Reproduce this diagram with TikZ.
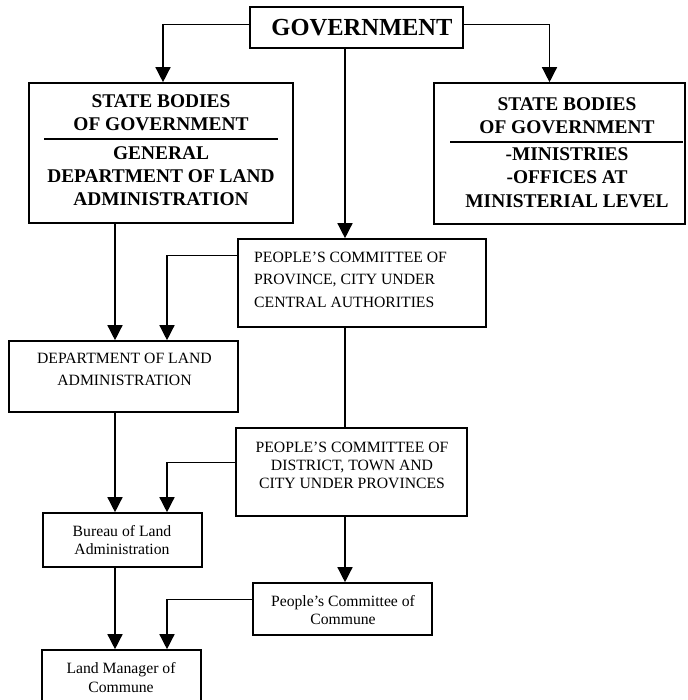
\documentclass[tikz,border=0pt]{standalone}
\usepackage{fontspec}
\setmainfont{Liberation Serif}
\usetikzlibrary{arrows.meta}

\begin{document}
\begin{tikzpicture}[x=1pt,y=-1pt,
	box/.style={draw,line width=1.6pt,inner sep=0pt},
	txt/.style={inner sep=0pt,align=center,font=\fontsize{15.7}{18}\selectfont},
	captxt/.style={inner sep=0pt,align=center,font=\bfseries\fontsize{19.4}{23.3}\selectfont},
	lin/.style={line width=1.4pt},
	arr/.style={line width=1.4pt,-{Triangle[width=15pt,length=15pt]}}]
	\useasboundingbox (0,0) rectangle (687,700);
	\clip (0,0) rectangle (687,700);
	% boxes
	\node[box,minimum width=213,minimum height=41](gov)at(356.5,27.5){};
	\node[inner sep=0pt,font=\bfseries\fontsize{24.5}{28}\selectfont](gov-t)at(362,28){GOVERNMENT};
	\node[box,minimum width=264,minimum height=140](sbl)at(161,153){};
	\node[captxt](sbl-a)at(161,113){STATE BODIES\\OF GOVERNMENT};
	\node[captxt](sbl-b)at(161,176){GENERAL\\DEPARTMENT OF LAND\\ADMINISTRATION};
	\draw[line width=2.6pt](44,139)--(278,139);
	\node[box,minimum width=251,minimum height=141](sbr)at(559.5,153.5){};
	\node[captxt](sbr-a)at(567,116){STATE BODIES\\OF GOVERNMENT};
	\node[captxt](sbr-b)at(567,177.5){-MINISTRIES\\-OFFICES AT\\MINISTERIAL LEVEL};
	\draw[line width=2.6pt](450,142)--(683,142);
	\node[box,minimum width=248,minimum height=88](pcp)at(362,283){};
	\node[txt,align=left,anchor=west,font=\fontsize{15.7}{22.5}\selectfont](pcp-t)at(254,279.5){PEOPLE’S COMMITTEE OF\\PROVINCE, CITY UNDER\\CENTRAL AUTHORITIES};
	\node[box,minimum width=229,minimum height=71](dola)at(123.5,376.5){};
	\node[txt,font=\fontsize{15.7}{22}\selectfont](dola-t)at(124.5,369){DEPARTMENT OF LAND\\ADMINISTRATION};
	\node[box,minimum width=231,minimum height=88](pcd)at(351.5,472){};
	\node[txt](pcd-t)at(352,465){PEOPLE’S COMMITTEE OF\\DISTRICT, TOWN AND\\CITY UNDER PROVINCES};
	\node[box,minimum width=159,minimum height=54](bur)at(122.5,540){};
	\node[txt](bur-t)at(122,540){Bureau of Land\\Administration};
	\node[box,minimum width=179,minimum height=52](pcc)at(342.5,609){};
	\node[txt](pcc-t)at(343,610){People’s Committee of\\Commune};
	\node[box,minimum width=159,minimum height=56](lmc)at(121.5,678){};
	\node[txt,font=\fontsize{15.7}{19}\selectfont](lmc-t)at(121,677.5){Land Manager of\\Commune};
	% spines
	\coordinate(lsp)at(115,0);
	\coordinate(isp)at(167,0);
	\coordinate(msp)at(345,0);
	% connectors
	\draw[arr]([yshift=3pt]gov.west)-|([xshift=2pt]sbl.north);
	\draw[arr]([yshift=3pt]gov.east)-|([xshift=-10pt]sbr.north);
	\draw[arr](gov.south-|msp)--(pcp.north-|msp);
	\draw[arr](sbl.south-|lsp)--(dola.north-|lsp);
	\draw[arr]([yshift=-17pt]pcp.north west)-|(dola.north-|isp);
	\draw[lin](pcp.south-|msp)--(pcd.north-|msp);
	\draw[arr](dola.south-|lsp)--(bur.north-|lsp);
	\draw[arr]([yshift=-35pt]pcd.north west)-|(bur.north-|isp);
	\draw[arr](pcd.south-|msp)--(pcc.north-|msp);
	\draw[arr](bur.south-|lsp)--(lmc.north-|lsp);
	\draw[arr]([yshift=-17pt]pcc.north west)-|(lmc.north-|isp);
\end{tikzpicture}
\end{document}
